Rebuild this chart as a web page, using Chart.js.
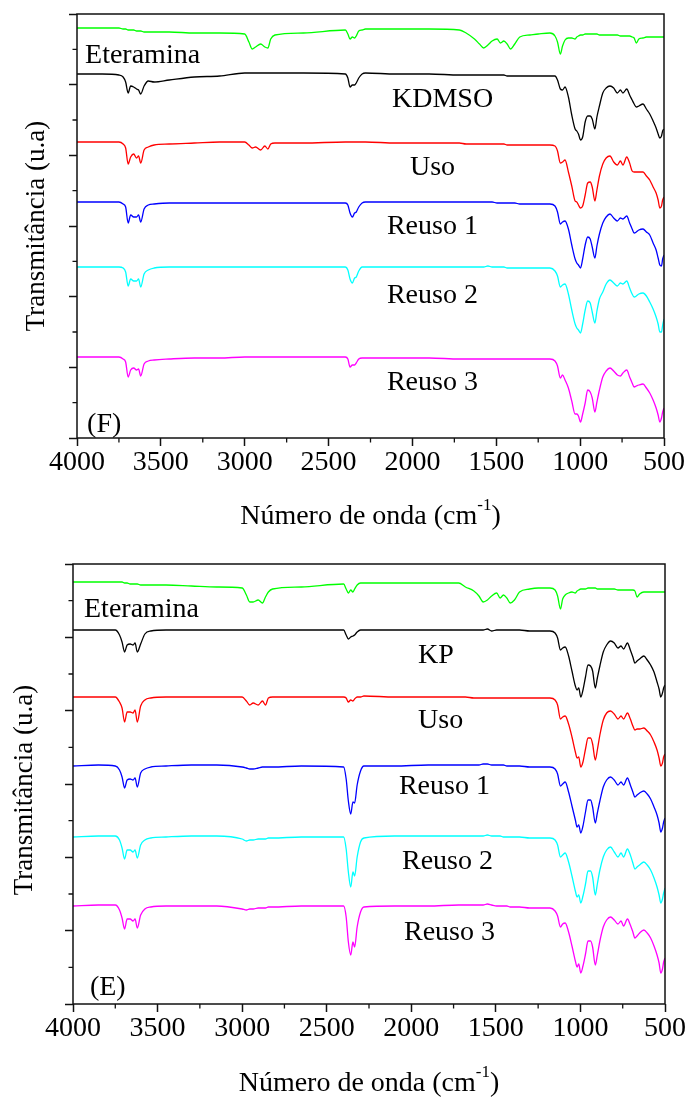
<!DOCTYPE html>
<html><head><meta charset="utf-8">
<script src="https://cdn.jsdelivr.net/npm/chart.js@4.4.1/dist/chart.umd.min.js"></script>
<style>
html,body{margin:0;padding:0;background:#fff;}
#wrap{position:relative;width:691px;height:1099px;overflow:hidden;background:#fff;}
canvas{position:absolute;left:0;}
</style></head><body>
<div id="wrap">
<canvas id="cF" width="691" height="549" style="top:0px"></canvas>
<canvas id="cE" width="691" height="550" style="top:549px"></canvas>
</div>
<script>
// Wavenumber grid (cm-1)
const wavenumbers = [4000,3850,3750,3725,3710,3695,3680,3662,3645,3633,
 3620,3600,3575,3540,3450,3300,3150,3000,2975,2955,
 2935,2905,2880,2862,2845,2820,2650,2400,2385,2372,
 2358,2345,2335,2320,2300,2280,2100,1900,1720,1680,
 1630,1600,1575,1550,1525,1495,1475,1455,1435,1415,
 1390,1360,1300,1250,1180,1150,1135,1118,1105,1090,
 1070,1050,1030,1020,1010,998,985,970,955,940,
 928,912,900,885,865,845,822,800,778,760,
 745,722,705,690,678,665,650,625,605,585,
 565,547,535,525,515,508,500];

const xTickValues = [4000,3500,3000,2500,2000,1500,1000,500];
const xMinorTicks = [3750,3250,2750,2250,1750,1250,750];

// Panel (F) – offset transmittance (a.u.)
const eteraminaF = [410,410,410,409,409,408,408,408,407,407,
 407,406,406,406,406,405,405,404,396,389,
 391,394,391,390,399,403,405,408,404,399,
 401,400,402,407,408,409,409,409,408,405,
 399,394,390,393,397,399,395,397,394,389,
 394,401,403,404,405,402,396,384,392,398,
 400,400,399,401,402,403,403,404,404,404,
 404,404,404,403,403,403,403,403,403,402,
 402,402,402,401,400,395,399,400,401,401,
 401,401,401,401,401,401,401];
const kdmsoF = [364,364,363,361,356,345,352,351,349,348,
 344,352,357,356,358,361,362,365,365,365,
 365,365,365,365,365,365,365,364,360,351,
 353,353,355,360,364,365,364,364,363,363,
 363,363,363,363,363,363,363,363,362,362,
 362,362,362,362,362,362,358,349,348,351,
 341,323,309,307,304,298,301,316,322,322,
 319,309,321,332,345,350,352,350,345,348,
 345,349,343,338,334,331,332,334,329,324,
 317,310,304,300,302,307,309];
const usoF = [296,296,296,294,290,274,281,284,280,282,
 275,288,291,293,294,295,296,296,293,290,
 291,288,292,289,294,295,295,296,296,296,
 296,296,296,296,296,296,295,295,295,294,
 294,294,294,294,294,294,294,294,293,293,
 293,293,293,293,293,292,287,275,276,278,
 266,252,237,236,233,230,232,243,255,256,
 251,237,248,262,274,280,282,276,273,277,
 273,281,275,267,266,266,266,266,262,258,
 251,245,238,230,232,238,241];
const reuso1F = [236,236,236,234,231,215,223,221,221,223,
 216,229,233,234,235,235,235,235,235,235,
 235,235,235,235,235,235,235,235,233,225,
 221,225,226,231,235,236,236,236,236,236,
 236,236,236,236,236,235,235,235,235,235,
 235,234,234,234,234,232,226,214,216,217,
 209,193,179,175,173,170,179,193,201,199,
 191,180,192,204,215,221,224,220,217,220,
 219,222,215,209,205,206,208,209,206,203,
 195,188,180,173,172,179,183];
const reuso2F = [171,171,171,170,166,152,159,157,157,159,
 151,164,168,170,171,171,171,171,171,171,
 171,171,171,171,171,171,171,171,168,159,
 155,160,161,167,171,171,171,171,171,171,
 171,171,171,172,171,171,171,171,170,170,
 170,170,170,170,170,167,162,151,153,154,
 144,128,114,110,108,105,114,128,137,135,
 126,115,127,139,146,154,158,155,152,155,
 154,157,150,144,141,142,144,145,142,136,
 129,121,114,106,106,113,119];
const reuso3F = [81,81,81,79,76,61,68,70,68,69,
 62,74,77,78,79,80,80,81,81,81,
 81,81,81,81,81,81,81,81,79,71,
 73,73,75,79,80,80,80,80,79,79,
 79,79,79,79,79,79,79,79,79,79,
 79,79,79,79,79,77,72,60,63,58,
 50,37,24,24,22,16,24,35,48,46,
 40,26,36,48,61,67,70,67,63,62,
 65,68,61,55,51,52,53,54,50,45,
 38,30,23,16,20,26,30];

// Panel (E)
const eteraminaE = [422,422,422,422,422,421,421,420,420,420,
 420,419,419,419,419,418,417,416,409,402,
 402,404,401,407,412,415,417,420,415,411,
 414,412,415,419,421,421,421,421,421,417,
 413,408,402,404,408,411,406,409,406,401,
 404,412,415,416,416,414,408,395,405,409,
 411,412,411,413,414,415,415,415,416,416,
 416,416,415,415,415,415,415,415,414,414,
 414,414,414,414,413,407,410,412,412,412,
 412,412,412,412,412,412,412];
const kpE = [374,374,374,369,362,352,359,360,359,361,
 352,360,370,373,374,374,374,374,374,374,
 374,374,374,374,374,374,374,374,369,365,
 367,368,369,372,374,374,374,374,374,374,
 374,374,374,375,373,374,374,374,374,374,
 374,374,373,373,373,371,366,354,356,357,
 348,333,318,314,316,307,314,327,339,338,
 333,316,326,338,352,359,363,361,356,358,
 355,361,354,347,341,343,345,348,344,339,
 332,322,315,307,311,316,319];
const usoE = [307,307,307,302,296,282,292,292,291,294,
 282,298,304,306,307,307,307,307,303,299,
 301,299,303,299,306,307,307,307,306,302,
 304,303,305,307,307,308,307,307,307,307,
 306,306,306,306,306,306,306,306,306,306,
 306,306,306,306,306,304,299,285,287,288,
 280,267,252,246,247,237,242,255,266,266,
 260,244,254,269,284,291,293,290,285,288,
 285,291,285,278,274,275,275,276,273,269,
 262,254,246,238,241,247,250];
const reuso1E = [238,239,238,234,227,216,224,225,224,226,
 217,231,235,237,238,239,239,237,236,235,
 235,236,237,237,237,237,238,237,225,203,
 190,202,201,219,233,238,238,239,239,239,
 239,239,240,240,239,239,239,239,238,238,
 238,238,237,237,237,235,230,218,220,222,
 212,198,184,177,179,171,178,192,204,204,
 197,181,191,203,217,224,227,224,219,222,
 219,226,219,212,207,209,211,213,210,205,
 197,189,181,172,176,182,186];
const reuso2E = [167,168,168,164,156,145,154,154,152,154,
 146,159,164,166,167,168,168,165,163,164,
 164,165,165,165,166,166,167,167,155,132,
 117,132,128,147,162,166,168,168,168,168,
 168,168,168,169,168,168,168,167,167,167,
 167,167,166,166,166,164,159,147,149,151,
 142,128,113,107,109,101,108,120,133,133,
 127,109,120,134,147,154,157,152,147,151,
 147,155,149,141,135,137,139,142,139,134,
 126,117,109,101,105,111,116];
const reuso3E = [98,99,99,94,86,75,85,85,83,85,
 76,89,95,97,98,98,98,95,94,95,
 95,96,96,96,97,97,98,98,87,62,
 49,62,57,77,92,97,98,98,99,99,
 99,99,99,100,99,98,98,98,98,97,
 97,97,96,96,96,93,88,77,80,81,
 72,58,43,37,40,31,38,50,63,63,
 57,39,49,63,77,84,87,84,80,83,
 78,85,79,72,66,68,71,74,71,66,
 58,49,41,31,35,42,46];

const seriesColors = ['#00ff00','#000000','#ff0000','#0000ff','#00ffff','#ff00ff'];

// In-plot annotations (text, wavenumber of left edge, baseline value)
const labelTextF = ['Eteramina','KDMSO','Uso','Reuso 1','Reuso 2','Reuso 3','(F)'];
const labelWnF   = [3952, 2122, 2015, 2152, 2152, 2152, 3940];
const labelYF    = [375, 331, 263, 204, 135, 48, 6];
const labelTextE = ['Eteramina','KP','Uso','Reuso 1','Reuso 2','Reuso 3','(E)'];
const labelWnE   = [3935, 1960, 1960, 2073, 2055, 2043, 3900];
const labelYE    = [387, 341, 276, 210, 135, 64, 9];

const SERIF = '"Liberation Serif","Times New Roman","DejaVu Serif",serif';

const framePlugin = {
  id: 'frame',
  afterDraw(chart, args, o) {
    const {ctx, chartArea: a} = chart;
    const x = chart.scales.x, y = chart.scales.y;
    ctx.save();
    // frame
    ctx.strokeStyle = '#111'; ctx.lineWidth = 1.5;
    ctx.strokeRect(a.left, a.top, a.right - a.left, a.bottom - a.top);
    // minor ticks
    ctx.lineWidth = 1.3; ctx.beginPath();
    o.xMinor.forEach(v => { const p = x.getPixelForValue(v); ctx.moveTo(p, a.bottom); ctx.lineTo(p, a.bottom + 4.5); });
    o.yMinor.forEach(v => { const p = y.getPixelForValue(v); ctx.moveTo(a.left, p); ctx.lineTo(a.left - 4.5, p); });
    ctx.stroke();
    // annotations
    ctx.fillStyle = '#000'; ctx.textAlign = 'left'; ctx.textBaseline = 'alphabetic';
    ctx.font = '28px ' + SERIF;
    o.texts.forEach((t, i) => ctx.fillText(t, x.getPixelForValue(o.wns[i]), y.getPixelForValue(o.ys[i])));
    // x title with superscript
    const main = 'Número de onda (cm', sup = '-1', close = ')';
    ctx.font = '28px ' + SERIF; const w1 = ctx.measureText(main).width; const w3 = ctx.measureText(close).width;
    ctx.font = '17px ' + SERIF; const w2 = ctx.measureText(sup).width;
    const sx = (a.left + a.right) / 2 - (w1 + w2 + w3) / 2;
    const by = a.bottom + o.xTitleOffset;
    ctx.font = '28px ' + SERIF; ctx.fillText(main, sx, by);
    ctx.font = '17px ' + SERIF; ctx.fillText(sup, sx + w1, by - 14);
    ctx.font = '28px ' + SERIF; ctx.fillText(close, sx + w1 + w2, by);
    // y title
    ctx.translate(o.yTitleX, (a.top + a.bottom) / 2 + o.yTitleDy);
    ctx.rotate(-Math.PI / 2);
    ctx.textAlign = 'center'; ctx.textBaseline = 'middle';
    ctx.font = '27px ' + SERIF;
    ctx.fillText('Transmitância (u.a)', 0, 0);
    ctx.restore();
  }
};

function buildChart(id, cfg) {
  const names = cfg.names;
  const datasets = cfg.series.map((vals, i) => ({
    label: names[i],
    data: wavenumbers.map((w, j) => ({x: w, y: vals[j]})),
    borderColor: seriesColors[i],
    borderWidth: 1.3,
    pointRadius: 0,
    cubicInterpolationMode: 'monotone',
    fill: false
  }));
  const yStep = cfg.yMax / 12;
  const tickGrid = {display: true, drawOnChartArea: false, drawTicks: true, tickLength: 8, tickWidth: 1.5, tickColor: '#111'};
  return new Chart(document.getElementById(id), {
    type: 'line',
    data: {datasets},
    options: {
      responsive: false, animation: false, devicePixelRatio: 1,
      layout: {padding: {top: cfg.padTop, right: cfg.padRight, left: 0, bottom: 0}},
      plugins: {
        legend: {display: false}, tooltip: {enabled: false},
        frame: {
          xMinor: xMinorTicks,
          yMinor: [1,3,5,7,9,11].map(k => k * yStep),
          texts: cfg.labelText, wns: cfg.labelWn, ys: cfg.labelY,
          xTitleOffset: cfg.xTitleOffset, yTitleX: cfg.yTitleX, yTitleDy: cfg.yTitleDy
        }
      },
      scales: {
        x: {
          type: 'linear', reverse: true, min: 500, max: 4000,
          afterBuildTicks: s => { s.ticks = xTickValues.map(v => ({value: v})); },
          afterFit: s => { s.height = cfg.xAxisHeight; },
          grid: tickGrid, border: {display: false},
          ticks: {color: '#000', font: {family: SERIF, size: 28}, padding: 0, maxRotation: 0, autoSkip: false, callback: v => String(v)}
        },
        y: {
          type: 'linear', min: 0, max: cfg.yMax,
          afterBuildTicks: s => { s.ticks = [0,2,4,6,8,10,12].map(k => ({value: k * yStep})); },
          afterFit: s => { s.width = cfg.yAxisWidth; },
          grid: tickGrid, border: {display: false},
          ticks: {display: false}
        }
      }
    },
    plugins: [framePlugin]
  });
}

buildChart('cF', {
  names: ['Eteramina','KDMSO','Uso','Reuso 1','Reuso 2','Reuso 3'],
  series: [eteraminaF, kdmsoF, usoF, reuso1F, reuso2F, reuso3F],
  yMax: 424, padTop: 14, padRight: 27, xAxisHeight: 111, yAxisWidth: 77,
  labelText: labelTextF, labelWn: labelWnF, labelY: labelYF,
  xTitleOffset: 86, yTitleX: 37, yTitleDy: 0
});
buildChart('cE', {
  names: ['Eteramina','KP','Uso','Reuso 1','Reuso 2','Reuso 3'],
  series: [eteraminaE, kpE, usoE, reuso1E, reuso2E, reuso3E],
  yMax: 440, padTop: 15, padRight: 26, xAxisHeight: 95, yAxisWidth: 73,
  labelText: labelTextE, labelWn: labelWnE, labelY: labelYE,
  xTitleOffset: 87, yTitleX: 25, yTitleDy: 6
});
</script>
</body></html>
